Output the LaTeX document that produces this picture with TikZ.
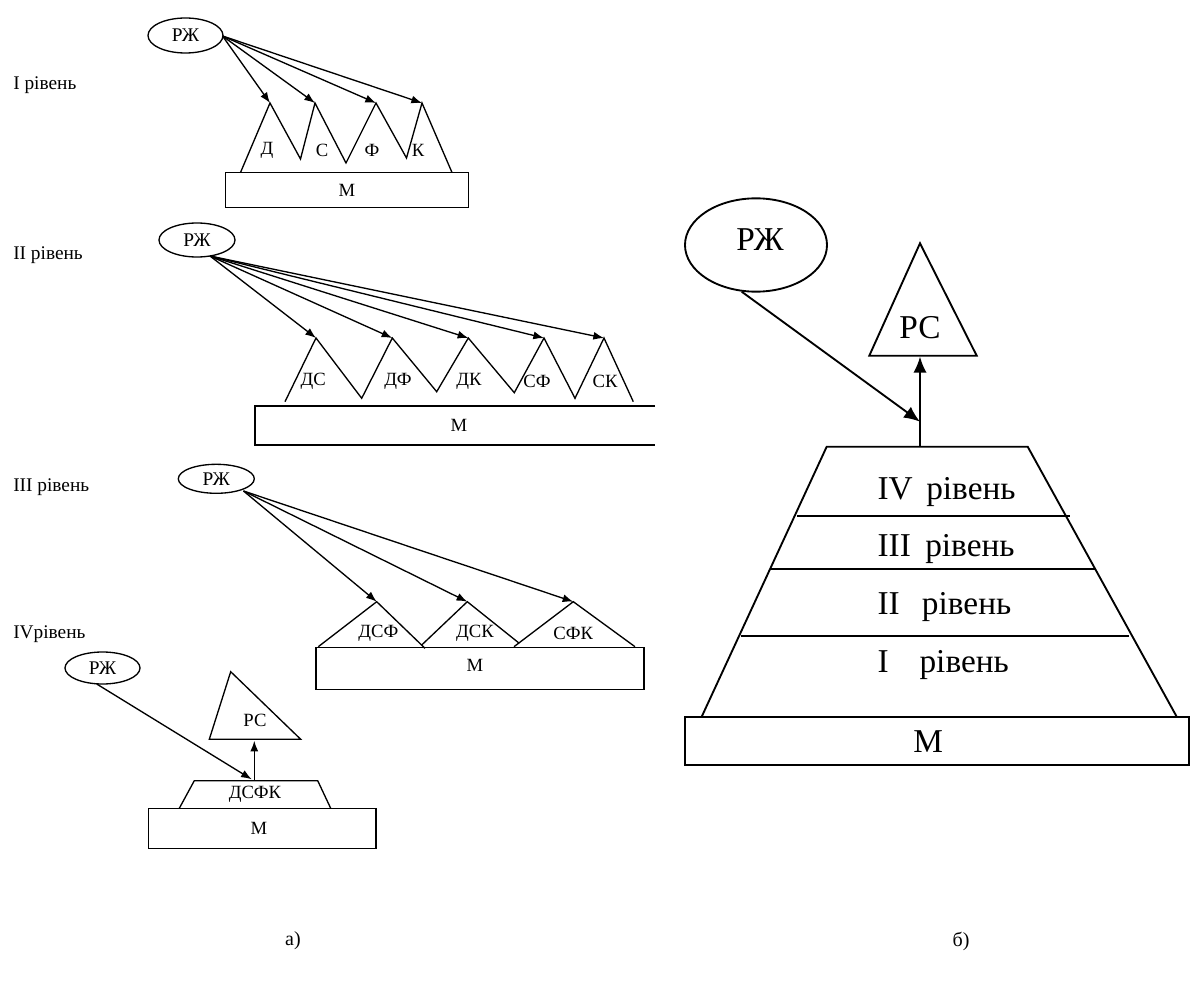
\documentclass[tikz,border=0pt]{standalone}
\usepackage{fontspec}
\setmainfont{Liberation Serif}
\usetikzlibrary{arrows.meta,shapes.geometric}
\tikzset{
  lw/.style={line width=1pt, line join=miter},
  bw/.style={line width=1.4pt},
  ell/.style={draw, ellipse, inner sep=0pt, line width=1pt, font=\fontsize{14.5}{16}\selectfont},
  bigell/.style={draw, ellipse, inner sep=0pt, line width=1.4pt},
  sm/.style={font=\fontsize{14}{16}\selectfont, inner sep=0pt},
  lbl/.style={font=\fontsize{14.5}{16}\selectfont, inner sep=0pt, anchor=base west},
  big/.style={font=\fontsize{25}{30}\selectfont, inner sep=0pt},
  bigl/.style={font=\fontsize{25}{30}\selectfont, inner sep=0pt, anchor=base west},
  captxt/.style={font=\fontsize{15}{17}\selectfont, inner sep=0pt},
  arr/.style={line width=1pt, -{Latex[length=8pt,width=6pt]}},
  bigarr/.style={line width=1.4pt, -{Latex[length=12pt,width=10pt]}},
}
\begin{document}
\begin{tikzpicture}[x=0.75pt,y=-0.75pt]
\useasboundingbox (0,0) rectangle (1190,988);

% ---------- Level I ----------
\node[lbl] (l1) at (13,90) {I рівень};
\node[ell, minimum width=56.25pt, minimum height=26.25pt] (e1) at (185.5,35.5) {РЖ};
\coordinate (s1) at (222.5,36);
\coordinate (p11) at (270,103);
\coordinate (p12) at (315,103);
\coordinate (p13) at (376,103);
\coordinate (p14) at (422,103);
\draw[lw] (225.5,172.5) rectangle (468.5,207.5);
\node[sm] (m1) at (347,190) {М};
\draw[lw] (240.5,172.5) -- (p11) -- (300.5,159) -- (p12) -- (346,163) -- (p13) -- (406.5,158) -- (p14) -- (452,172.5);
\foreach \p in {p11,p12,p13,p14} \draw[arr] (s1) -- (\p);
\node[sm] (t11) at (267,150) {Д};
\node[sm] (t12) at (322,150) {С};
\node[sm] (t13) at (372,150) {Ф};
\node[sm] (t14) at (418,150) {К};

% ---------- Level II ----------
\node[lbl] (l2) at (13,260) {II рівень};
\node[ell, minimum width=57pt, minimum height=25.5pt] (e2) at (197,240) {РЖ};
\coordinate (s2) at (210,256);
\coordinate (p21) at (316,338);
\coordinate (p22) at (392.3,338);
\coordinate (p23) at (468.3,338);
\coordinate (p24) at (544,338);
\coordinate (p25) at (604,338);
\draw[lw] (655,406) -- (255,406) -- (255,445) -- (655,445);
\node[sm] (m2) at (459,425) {М};
\draw[lw] (285,401.7) -- (p21) -- (361.7,398.3) -- (p22) -- (436.7,391.7) -- (p23) -- (514.3,392.7) -- (p24) -- (575,398.3) -- (p25) -- (633.3,401.7);
\foreach \p in {p21,p22,p23,p24,p25} \draw[arr] (s2) -- (\p);
\node[sm] (t21) at (313.3,381) {ДС};
\node[sm] (t22) at (398,381) {ДФ};
\node[sm] (t23) at (469,381) {ДК};
\node[sm] (t24) at (537,381) {СФ};
\node[sm] (t25) at (605,381) {СК};

% ---------- Level III ----------
\node[lbl] (l3) at (13,491.5) {III рівень};
\node[ell, minimum width=57pt, minimum height=21.75pt] (e3) at (216.3,478.8) {РЖ};
\coordinate (s3) at (243.5,491);
\coordinate (p31) at (376.7,601.7);
\coordinate (p32) at (467.3,601.7);
\coordinate (p33) at (573.3,601.7);
\draw[lw] (316,647.3) rectangle (644,689.3);
\node[sm] (m3) at (475,665) {М};
\draw[lw] (318.3,646.7) -- (p31) -- (425,648.3);
\draw[lw] (421.7,645) -- (p32) -- (519.3,643.3);
\draw[lw] (514,646.7) -- (p33) -- (635,646.7);
\foreach \p in {p31,p32,p33} \draw[arr] (s3) -- (\p);
\node[sm] (t31) at (378.3,633) {ДСФ};
\node[sm] (t32) at (475,633) {ДСК};
\node[sm] (t33) at (573.3,633) {СФК};

% ---------- Level IV ----------
\node[lbl] (l4) at (13,638) {IVрівень};
\node[ell, minimum width=56.25pt, minimum height=24pt] (e4) at (102.5,668) {РЖ};
\coordinate (s4) at (96.7,684);
\coordinate (q4) at (251.7,779.3);
\coordinate (rb4) at (254.3,740.7);
\coordinate (tb4) at (254.3,780.7);
\draw[lw] (230.7,671.7) -- (300.7,739.3) -- (209.3,739.3) -- cycle;
\node[sm] (rc4) at (255,720) {РС};
\draw[lw] (148.3,808.3) rectangle (376,848.3);
\node[sm] (m4) at (259,828.3) {М};
\draw[lw] (179.3,808.3) -- (194.3,780.7) -- (317.7,780.7) -- (330.7,808.3);
\node[sm] (t4) at (255,794) {ДСФК};
\draw[arr] (s4) -- (q4);
\draw[arr] (tb4) -- (rb4);

% ---------- Right (б) ----------
\node[bigell, minimum width=106.5pt, minimum height=70pt] (eb) at (756,245) {};
\node[big] (ebt) at (760,240) {РЖ};
\draw[bw] (920,243.3) -- (976.7,355.7) -- (869.3,355.7) -- cycle;
\node[big] (rcb) at (920,328) {РС};
\coordinate (rbb) at (920,356.7);
\coordinate (tbb) at (920,446.7);
\coordinate (sb) at (741.7,291.7);
\coordinate (qb) at (920,421.7);
\draw[bw] (701.7,716.7) -- (826.7,446.7) -- (1027.7,446.7) -- (1176.7,716.7);
\draw[bw] (796.7,516) -- (1070,516);
\draw[bw] (770,569.3) -- (1096,569.3);
\draw[bw] (740.7,636) -- (1129.3,636);
\draw[bw] (685,716.7) rectangle (1189,765);
\node[big] (mb) at (928.3,742) {М};
\node[bigl] (n4) at (877.3,499.3) {IV};
\node[bigl] (r4) at (926,499.3) {рівень};
\node[bigl] (n3) at (877.3,556.7) {III};
\node[bigl] (r3) at (925,556.7) {рівень};
\node[bigl] (n2) at (877.3,614) {II};
\node[bigl] (r2) at (921.7,614) {рівень};
\node[bigl] (n1) at (877.3,672.7) {I};
\node[bigl] (r1) at (919.3,672.7) {рівень};
\draw[bigarr] (sb) -- (qb);
\draw[bigarr] (tbb) -- (rbb);

% ---------- captions ----------
\node[captxt] (ca) at (293,941) {а)};
\node[captxt] (cb) at (961,941) {б)};
\end{tikzpicture}
\end{document}
